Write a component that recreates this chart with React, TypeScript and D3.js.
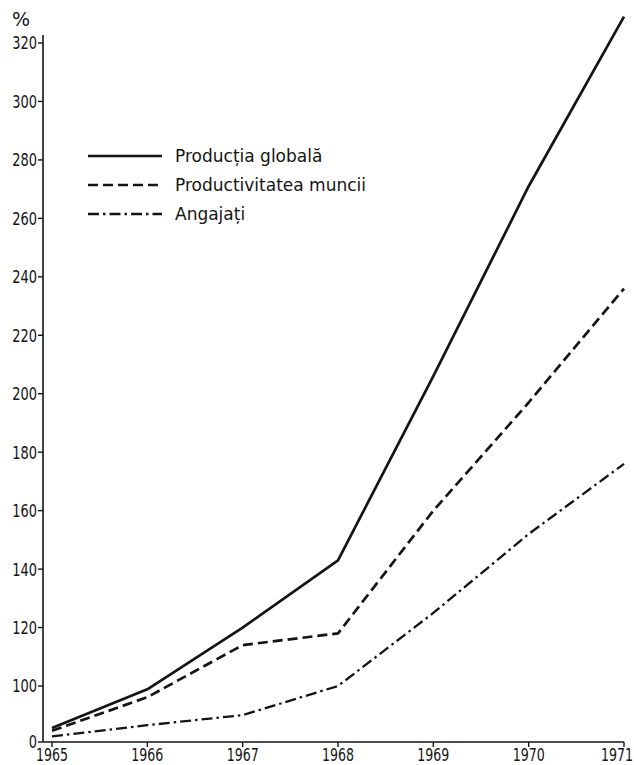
import React from "react";
import * as d3 from "d3";

const years = [1965, 1966, 1967, 1968, 1969, 1970, 1971];
const productiaGlobala = [25, 94, 120, 143, 206, 271, 329];
const productivitateaMuncii = [20, 80, 114, 118, 160, 197, 236];
const angajati = [10, 30, 48, 100, 125, 152, 176];

const yTickValues = [0, 100, 120, 140, 160, 180, 200, 220, 240, 260, 280, 300, 320];
const yTickLabels = ["0", "100", "120", "140", "160", "180", "200", "220", "240", "260", "280", "300", "320"];
const xTickLabels = ["1965", "1966", "1967", "1968", "1969", "1970", "1971"];
const seriesNames = ["Producția globală", "Productivitatea muncii", "Angajați"];
const unitLabel = "%";

const W = 634;
const H = 765;
const INK = "#141414";
const numFont = "'DejaVu Sans', sans-serif";
const legendFont = "'DejaVu Sans', 'Noto Sans', sans-serif";

export default function App() {
  const x = d3.scaleLinear().domain([1965, 1971]).range([52, 624]);
  // broken scale: 0..100 compressed, 100..320 regular
  const y = d3.scaleLinear().domain([0, 100, 320]).range([742, 686, 43]);
  const axisX = 43;
  const axisY = y(0);

  const line = d3
    .line<number>()
    .x((_, i) => x(years[i]))
    .y((d) => y(d))
    .curve(d3.curveLinear);

  const series = [
    { name: seriesNames[0], values: productiaGlobala, dash: "", width: 2.7 },
    { name: seriesNames[1], values: productivitateaMuncii, dash: "10 5", width: 2.7 },
    { name: seriesNames[2], values: angajati, dash: "11 4 2.5 4", width: 2.3 },
  ];

  const legendX0 = 88;
  const legendX1 = 162;
  const legendY = [156, 185, 214];

  return (
    <svg
      width={W}
      height={H}
      style={{ position: "absolute", left: 0, top: 0, background: "#ffffff" }}
    >
      <rect x={0} y={0} width={W} height={H} fill="#ffffff" />
      {/* y axis */}
      <line x1={axisX} x2={axisX} y1={35} y2={axisY} stroke={INK} strokeWidth={1.6} />
      {yTickValues.map((v, i) => (
        <g key={"yt" + v}>
          <line x1={axisX - 5} x2={axisX} y1={y(v)} y2={y(v)} stroke={INK} strokeWidth={1.4} />
          <text
            transform={`translate(${axisX - 6},${y(v)}) scale(0.72,1)`}
            dy="0.36em"
            textAnchor="end"
            fontFamily={numFont}
            fontSize={18}
            fill={INK}
          >
            {yTickLabels[i]}
          </text>
        </g>
      ))}
      <text x={21} y={26} textAnchor="middle" fontFamily={legendFont} fontSize={19} fill={INK}>
        {unitLabel}
      </text>
      {/* x axis */}
      <line x1={axisX} x2={x(1971)} y1={axisY} y2={axisY} stroke={INK} strokeWidth={1.6} />
      {years.map((yr, i) => {
        const last = i === years.length - 1;
        const tx = last ? 633 : x(yr);
        return (
          <g key={"xt" + yr}>
            <line x1={x(yr)} x2={x(yr)} y1={axisY} y2={axisY + 5} stroke={INK} strokeWidth={1.4} />
            <text
              transform={`translate(${tx},${axisY + 19}) scale(0.7,1)`}
              textAnchor={last ? "end" : "middle"}
              fontFamily={numFont}
              fontSize={18}
              fill={INK}
            >
              {xTickLabels[i]}
            </text>
          </g>
        );
      })}
      {/* series */}
      {series.map((s) => (
        <path
          key={s.name}
          d={line(s.values) || ""}
          fill="none"
          stroke={INK}
          strokeWidth={s.width}
          strokeDasharray={s.dash || undefined}
          strokeLinejoin="round"
        />
      ))}
      {/* legend */}
      {series.map((s, i) => (
        <g key={"lg" + s.name}>
          <line
            x1={legendX0}
            x2={legendX1}
            y1={legendY[i]}
            y2={legendY[i]}
            stroke={INK}
            strokeWidth={s.width}
            strokeDasharray={s.dash || undefined}
          />
          <text
            x={175}
            y={legendY[i]}
            dy="0.36em"
            fontFamily={legendFont}
            fontSize={17}
            fill={INK}
          >
            {s.name}
          </text>
        </g>
      ))}
    </svg>
  );
}
